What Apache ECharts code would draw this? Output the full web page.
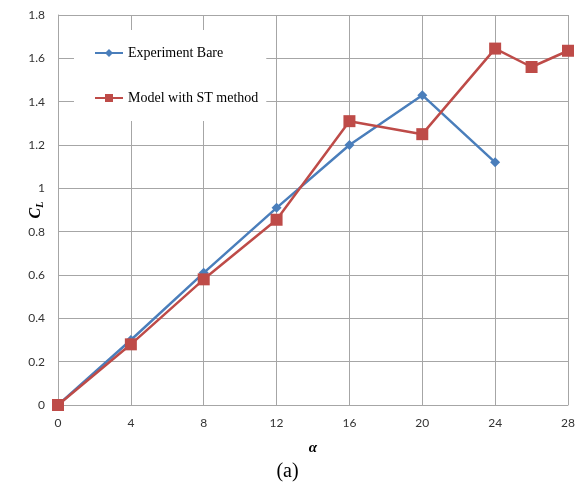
<!DOCTYPE html>
<html>
<head>
<meta charset="utf-8">
<script src="https://cdn.jsdelivr.net/npm/echarts@6/dist/echarts.min.js"></script>
<style>
  html, body { margin: 0; padding: 0; background: #fff; }
  #chart { width: 575px; height: 489px; }
</style>
</head>
<body>
<div id="chart"></div>
<script>
// Lift coefficient versus angle of attack
const alphaBare = [0, 4, 8, 12, 16, 20, 24];
const clBare = [0, 0.30, 0.61, 0.91, 1.20, 1.43, 1.12];
const alphaModel = [0, 4, 8, 12, 16, 20, 24, 26, 28];
const clModel = [0, 0.28, 0.58, 0.855, 1.31, 1.25, 1.645, 1.56, 1.635];
const seriesNames = ['Experiment Bare', 'Model with ST method'];

const pairs = (xs, ys) => xs.map((x, i) => [x, ys[i]]);

const chart = echarts.init(document.getElementById('chart'));
const gridColor = '#a6a6a6';
const labelFont = 'Lato, "Open Sans", sans-serif';
const serif = '"Liberation Serif", "DejaVu Serif", serif';

chart.setOption({
  animation: false,
  backgroundColor: '#fff',
  grid: { left: 58, right: 7, top: 15, bottom: 84, outerBoundsMode: 'none', containLabel: false },
  xAxis: {
    type: 'value', min: 0, max: 28, interval: 4,
    name: 'α', nameLocation: 'middle', nameGap: 36,
    nameTextStyle: { fontFamily: serif, fontWeight: 'bold', fontStyle: 'italic', fontSize: 15, color: '#000' },
    axisLine: { show: true, lineStyle: { color: gridColor, width: 1 } },
    axisTick: { show: false },
    axisLabel: { color: '#333', fontFamily: labelFont, fontSize: 12, margin: 12 },
    splitLine: { show: true, lineStyle: { color: gridColor, width: 1 } }
  },
  yAxis: {
    type: 'value', min: 0, max: 1.8, interval: 0.2,
    name: '{c|C}{l|L}', nameLocation: 'middle', nameGap: 13, nameRotate: 90,
    nameMoveOverlap: false,
    nameTextStyle: {
      rich: {
        c: { fontFamily: serif, fontWeight: 'bold', fontStyle: 'italic', fontSize: 16, color: '#000' },
        l: { fontFamily: serif, fontWeight: 'bold', fontStyle: 'italic', fontSize: 10, color: '#000', padding: [8, 0, 0, 0] }
      }
    },
    axisLine: { show: true, lineStyle: { color: gridColor, width: 1 } },
    axisTick: { show: false },
    axisLabel: { color: '#333', fontFamily: labelFont, fontSize: 12, margin: 13 },
    splitLine: { show: true, lineStyle: { color: gridColor, width: 1 } }
  },
  legend: {
    orient: 'vertical', left: 74, top: 30,
    padding: [16, 8, 16, 20],
    itemGap: 31, itemWidth: 28, itemHeight: 10,
    backgroundColor: '#fff',
    textStyle: { fontFamily: serif, fontSize: 14, color: '#000' },
    data: seriesNames
  },
  series: [
    {
      name: seriesNames[0], type: 'line',
      data: pairs(alphaBare, clBare),
      symbol: 'diamond', symbolSize: 10,
      itemStyle: { color: '#4a7ebb' },
      lineStyle: { color: '#4a7ebb', width: 2.5 },
      z: 3
    },
    {
      name: seriesNames[1], type: 'line',
      data: pairs(alphaModel, clModel),
      symbol: 'rect', symbolSize: 12,
      itemStyle: { color: '#be4b48' },
      lineStyle: { color: '#be4b48', width: 2.5 },
      z: 4
    }
  ],
  graphic: [
    {
      type: 'text', left: 'center', top: 462,
      style: { text: '(a)', font: '20px ' + serif, fill: '#000' }
    }
  ]
});
</script>
</body>
</html>
